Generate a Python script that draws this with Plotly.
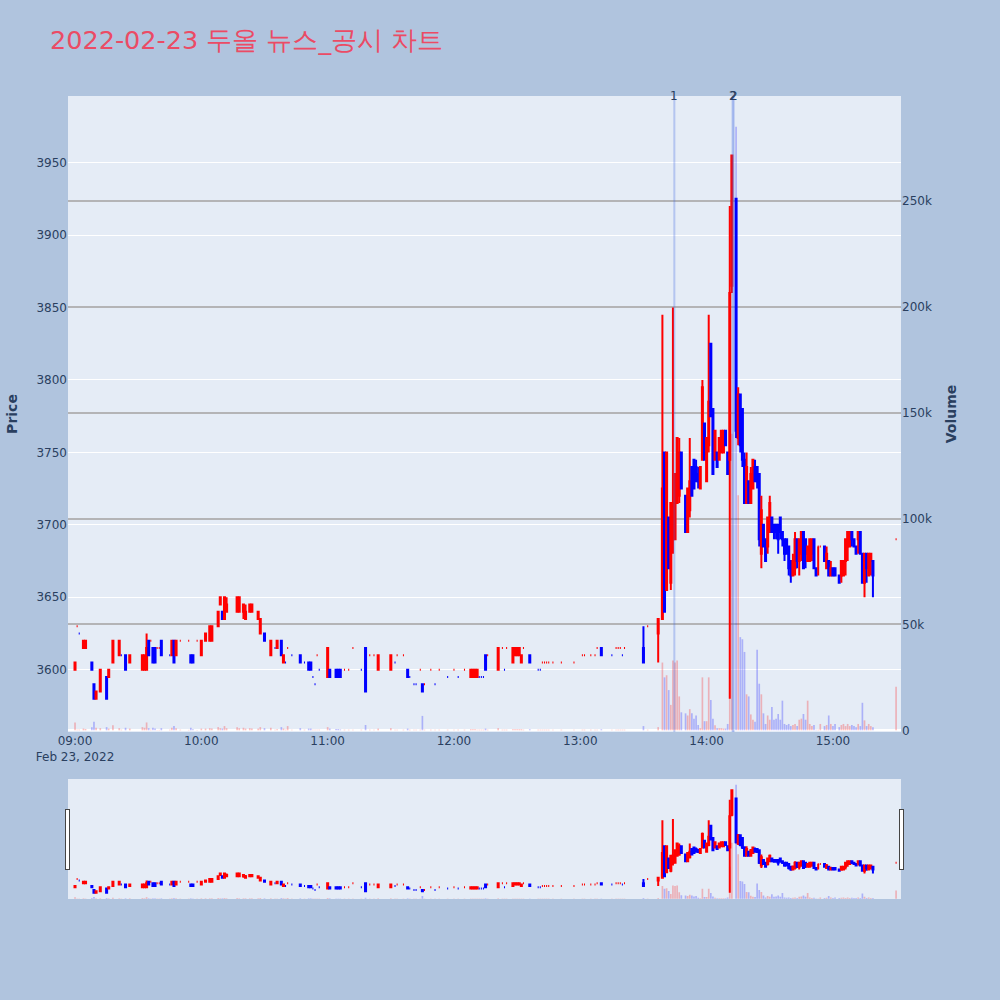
import plotly.graph_objects as go
from plotly.subplots import make_subplots

times = ["09:00","09:01","09:02","09:04","09:05","09:08","09:09","09:10","09:12","09:15",
         "09:16","09:18","09:21","09:22","09:24","09:26","09:32","09:33","09:34","09:35",
         "09:36","09:37","09:38","09:39","09:40","09:41","09:45","09:46","09:47","09:48",
         "09:50","09:54","09:55","09:56","09:58","10:00","10:02","10:04","10:05","10:08",
         "10:09","10:10","10:11","10:12","10:17","10:18","10:20","10:21","10:23","10:24",
         "10:27","10:28","10:30","10:33","10:35","10:36","10:38","10:39","10:40","10:41",
         "10:43","10:47","10:49","10:51","10:52","10:53","10:54","10:55","10:56","11:00",
         "11:01","11:04","11:05","11:06","11:08","11:10","11:12","11:16","11:18","11:20",
         "11:22","11:24","11:30","11:32","11:33","11:36","11:38","11:39","11:41","11:42",
         "11:44","11:45","11:46","11:49","11:51","11:53","11:57","12:00","12:02","12:05",
         "12:08","12:09","12:10","12:11","12:12","12:13","12:14","12:15","12:16","12:21",
         "12:23","12:24","12:25","12:28","12:29","12:30","12:31","12:32","12:33","12:36",
         "12:40","12:41","12:42","12:43","12:44","12:45","12:47","12:51","12:57","13:01",
         "13:02","13:05","13:07","13:08","13:10","13:15","13:17","13:18","13:19","13:20",
         "13:21","13:30","13:32","13:37","13:39","13:40","13:41","13:42","13:43","13:44",
         "13:45","13:46","13:47","13:48","13:50","13:51","13:52","13:53","13:54","13:55",
         "13:56","13:57","13:58","13:59","14:00","14:01","14:02","14:03","14:04","14:05",
         "14:06","14:07","14:08","14:09","14:10","14:11","14:12","14:14","14:15","14:16",
         "14:17","14:18","14:19","14:20","14:21","14:22","14:23","14:24","14:25","14:26",
         "14:27","14:28","14:29","14:30","14:31","14:32","14:33","14:34","14:35","14:36",
         "14:37","14:38","14:39","14:40","14:41","14:42","14:43","14:44","14:45","14:46",
         "14:47","14:48","14:49","14:50","14:51","14:52","14:53","14:54","14:56","14:57",
         "14:58","14:59","15:00","15:01","15:03","15:04","15:05","15:06","15:07","15:08",
         "15:09","15:10","15:11","15:12","15:13","15:14","15:15","15:16","15:17","15:18",
         "15:19","15:30"]

opens = [3600,3630,3625,3615,3615,3605,3590,3580,3585,3595,
         3595,3605,3610,3610,3610,3605,3600,3600,3600,3620,
         3620,3615,3615,3615,3615,3620,3610,3610,3620,3610,
         3620,3620,3610,3610,3620,3610,3620,3620,3620,3630,
         3645,3640,3635,3640,3640,3640,3640,3635,3640,3640,
         3635,3625,3625,3610,3615,3615,3620,3605,3605,3615,
         3610,3610,3605,3605,3605,3595,3590,3610,3600,3595,
         3600,3600,3600,3600,3600,3600,3615,3600,3615,3610,
         3610,3600,3600,3605,3610,3610,3600,3595,3590,3590,
         3600,3590,3590,3600,3590,3600,3595,3600,3595,3600,
         3595,3595,3595,3595,3595,3595,3595,3610,3610,3600,
         3615,3600,3615,3605,3610,3610,3610,3605,3615,3610,
         3600,3600,3605,3605,3605,3605,3605,3605,3605,3610,
         3610,3610,3610,3615,3615,3610,3615,3615,3615,3610,
         3615,3615,3630,3625,3635,3750,3655,3705,3660,3690,
         3690,3715,3720,3750,3720,3695,3710,3740,3745,3740,
         3735,3725,3745,3770,3730,3755,3825,3780,3745,3750,
         3745,3750,3750,3765,3750,3745,3865,3925,3760,3790,
         3780,3745,3715,3730,3715,3725,3740,3740,3735,3680,
         3700,3690,3685,3695,3705,3700,3700,3700,3705,3695,
         3690,3690,3685,3675,3665,3670,3690,3675,3680,3695,
         3690,3675,3675,3680,3690,3670,3685,3685,3685,3670,
         3675,3665,3670,3670,3665,3665,3665,3675,3685,3685,
         3695,3690,3685,3690,3695,3680,3660,3680,3665,3675,
         3675,3690]

highs = [3605,3630,3625,3620,3620,3605,3590,3585,3600,3595,
         3600,3620,3620,3610,3610,3610,3610,3610,3625,3620,
         3620,3615,3615,3615,3615,3620,3610,3620,3620,3620,
         3620,3620,3610,3610,3620,3620,3625,3630,3630,3640,
         3650,3640,3650,3650,3650,3650,3645,3645,3645,3645,
         3640,3635,3625,3620,3615,3620,3620,3610,3605,3615,
         3610,3610,3605,3605,3605,3595,3590,3610,3600,3615,
         3600,3600,3600,3600,3600,3600,3615,3600,3615,3610,
         3610,3610,3610,3605,3610,3610,3600,3595,3590,3590,
         3600,3590,3590,3600,3590,3600,3595,3600,3595,3600,
         3600,3600,3600,3600,3595,3595,3595,3610,3610,3615,
         3615,3600,3615,3615,3615,3615,3615,3610,3615,3610,
         3600,3600,3605,3605,3605,3605,3605,3605,3605,3610,
         3610,3610,3610,3615,3615,3610,3615,3615,3615,3610,
         3615,3630,3630,3635,3845,3750,3750,3705,3715,3850,
         3735,3760,3760,3750,3720,3725,3760,3740,3745,3745,
         3740,3740,3800,3770,3760,3845,3825,3780,3765,3750,
         3760,3765,3765,3765,3750,3920,3955,3925,3795,3790,
         3780,3750,3750,3730,3740,3745,3745,3740,3735,3720,
         3700,3690,3705,3720,3705,3700,3700,3700,3705,3695,
         3690,3690,3685,3675,3680,3695,3690,3675,3690,3695,
         3690,3685,3690,3690,3690,3670,3685,3685,3685,3685,
         3675,3675,3670,3670,3665,3675,3675,3690,3695,3695,
         3695,3690,3685,3695,3695,3680,3680,3680,3680,3680,
         3675,3690]

lows = [3600,3630,3625,3615,3615,3600,3580,3580,3585,3580,
        3595,3605,3610,3610,3600,3605,3600,3600,3600,3610,
        3620,3605,3605,3615,3615,3610,3610,3610,3605,3610,
        3620,3620,3605,3605,3620,3610,3620,3620,3620,3630,
        3645,3635,3635,3640,3640,3640,3635,3635,3640,3640,
        3635,3625,3620,3610,3615,3615,3610,3605,3605,3615,
        3610,3605,3605,3600,3600,3595,3590,3610,3600,3595,
        3595,3595,3595,3595,3600,3600,3615,3600,3585,3610,
        3610,3600,3600,3605,3610,3610,3595,3595,3590,3590,
        3600,3585,3590,3600,3590,3600,3595,3600,3595,3600,
        3595,3595,3595,3595,3595,3595,3595,3600,3610,3600,
        3615,3600,3615,3605,3610,3610,3610,3605,3615,3605,
        3600,3600,3605,3605,3605,3605,3605,3605,3605,3610,
        3610,3610,3610,3615,3610,3610,3615,3615,3615,3610,
        3615,3605,3630,3605,3635,3640,3655,3670,3655,3680,
        3690,3715,3715,3725,3695,3695,3705,3720,3725,3730,
        3725,3725,3745,3745,3730,3750,3775,3735,3745,3740,
        3745,3750,3750,3755,3735,3580,3860,3760,3755,3750,
        3740,3715,3715,3715,3715,3725,3730,3725,3685,3670,
        3685,3675,3680,3695,3695,3690,3690,3680,3690,3685,
        3675,3680,3665,3660,3665,3665,3670,3665,3675,3680,
        3670,3680,3675,3675,3680,3670,3665,3685,3685,3675,
        3670,3665,3665,3665,3665,3660,3665,3665,3675,3685,
        3685,3690,3685,3680,3690,3680,3650,3660,3670,3665,
        3650,3690]

closes = [3605,3630,3625,3620,3620,3600,3580,3585,3600,3580,
          3600,3620,3620,3610,3600,3610,3610,3610,3615,3610,
          3620,3605,3605,3615,3615,3610,3610,3620,3605,3620,
          3620,3620,3605,3605,3620,3620,3625,3630,3630,3640,
          3650,3635,3650,3645,3650,3650,3645,3640,3645,3645,
          3640,3635,3620,3620,3615,3620,3610,3610,3605,3615,
          3610,3605,3605,3600,3600,3595,3590,3610,3600,3615,
          3595,3595,3595,3595,3600,3600,3615,3600,3585,3610,
          3610,3610,3610,3605,3610,3610,3595,3595,3590,3590,
          3600,3585,3590,3600,3590,3600,3595,3600,3595,3600,
          3600,3600,3600,3600,3595,3595,3595,3600,3610,3615,
          3615,3600,3615,3615,3615,3615,3615,3610,3615,3605,
          3600,3600,3605,3605,3605,3605,3605,3605,3605,3610,
          3610,3610,3610,3615,3610,3610,3615,3615,3615,3610,
          3615,3605,3630,3635,3725,3640,3750,3670,3715,3715,
          3735,3760,3750,3725,3695,3725,3730,3720,3725,3730,
          3730,3740,3795,3745,3760,3785,3775,3735,3765,3740,
          3760,3765,3765,3755,3735,3860,3955,3765,3790,3755,
          3745,3715,3740,3715,3735,3745,3730,3730,3690,3710,
          3685,3675,3705,3715,3695,3695,3695,3690,3695,3690,
          3680,3680,3670,3665,3675,3690,3675,3690,3695,3670,
          3680,3685,3690,3690,3670,3665,3685,3685,3675,3680,
          3665,3670,3665,3665,3660,3675,3675,3690,3695,3695,
          3690,3685,3680,3695,3680,3660,3680,3670,3680,3680,
          3665,3690]

volumes = [3700,300,300,800,600,1500,4000,1200,1000,1500,
           800,2400,1000,300,1200,800,1500,1200,3700,1000,
           300,1200,800,200,200,1000,300,1200,2000,1000,
           300,200,1200,500,200,800,800,1000,800,1500,
           1000,800,2000,1000,1500,1000,1200,800,1000,800,
           800,1500,1000,1200,300,500,1500,800,300,2000,
           300,1000,300,800,800,300,300,300,300,1500,
           800,600,600,400,300,300,300,300,2500,300,
           300,800,1000,300,300,300,800,300,300,300,
           300,6800,300,300,300,300,300,300,300,300,
           500,500,500,300,300,300,300,800,300,1000,
           300,300,300,500,500,500,500,500,300,500,
           300,300,300,300,300,300,300,300,300,300,
           300,300,300,300,500,300,300,300,300,300,
           300,2000,300,1500,32000,25000,26000,19000,12000,33000,
           32000,33000,16000,8500,8000,7000,10000,8000,5500,7000,
           2500,1000,25000,4300,4300,25000,14300,5500,2400,1000,
           1000,1000,800,800,3000,80000,140000,285000,111000,44000,
           43000,37000,17000,16000,7500,5000,4000,38000,22000,17000,
           8000,3000,7000,5000,11000,5000,5500,7700,5000,14000,
           3000,2500,3000,2000,2500,3000,2000,5000,5500,7700,
           5000,14000,3000,2000,2500,300,300,3000,2000,2500,
           7000,3000,2000,3000,1500,2500,3000,2000,3000,2000,
           2500,2000,1500,3000,2000,13000,4700,2000,3000,2000,
           1500,20600]

news_times = ["13:44:40", "14:12:20", "14:12:50"]
news_labels = ["1", "2", "2"]

dates = ["2022-02-23 " + t + ":00" for t in times]

fig = make_subplots(specs=[[{"secondary_y": True}]])
fig.add_trace(go.Candlestick(
    x=dates, open=opens, high=highs, low=lows, close=closes,
    increasing=dict(line=dict(color="red", width=2), fillcolor="red"),
    decreasing=dict(line=dict(color="blue", width=2), fillcolor="blue"),
    showlegend=False, name="Price"), secondary_y=False)

vol_colors = ["rgba(255,0,0,0.25)" if c >= o else "rgba(0,0,255,0.25)"
              for o, c in zip(opens, closes)]
fig.add_trace(go.Bar(x=dates, y=volumes, marker=dict(color=vol_colors, line=dict(width=0)),
                     showlegend=False, name="Volume"), secondary_y=True)

for t, lab in zip(news_times, news_labels):
    xt = "2022-02-23 " + t
    fig.add_shape(type="line", xref="x", yref="paper", x0=xt, x1=xt, y0=0, y1=1,
                  line=dict(color="rgba(65,105,225,0.3)", width=2))
    fig.add_annotation(x=xt, y=1, xref="x", yref="paper", text=lab, showarrow=False,
                       yanchor="middle", font=dict(size=12, color="#2a3f5f"))

fig.update_layout(
    width=1000, height=1000,
    paper_bgcolor="lightsteelblue",
    font=dict(family="DejaVu Sans"),
    title=dict(text="2022-02-23 두올 뉴스_공시 차트", x=0.05, y=0.96, yanchor="middle",
               font=dict(size=25.5, color="#EB4B65")),
    margin=dict(l=68, r=99, t=96, b=101),
    bargap=0.2,
)
fig.update_xaxes(domain=[0, 1], rangeslider=dict(visible=True), showgrid=False,
                 range=["2022-02-23 08:56:40", "2022-02-23 15:32:20"])
fig.update_yaxes(title_text="<b>Price</b>", range=[3557, 3996], secondary_y=False)
fig.update_yaxes(title_text="<b>Volume</b>", range=[-800, 299500], gridcolor="rgb(180,180,182)",
                 gridwidth=2, secondary_y=True)

fig.write_html("out.html", config={"displayModeBar": False},
               post_script="document.body.style.margin='0px';")
